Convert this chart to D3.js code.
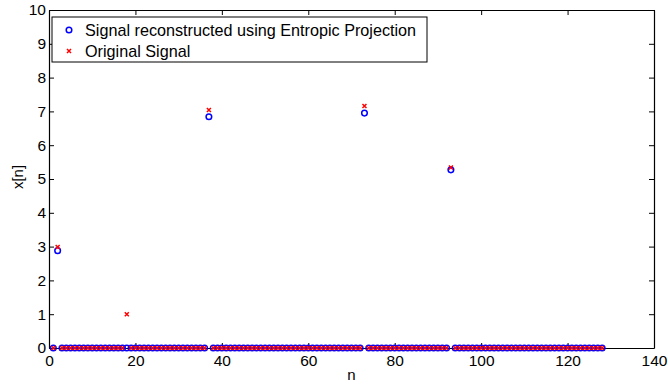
<!DOCTYPE html>
<html>
<head>
<meta charset="utf-8">
<script src="https://cdnjs.cloudflare.com/ajax/libs/d3/7.8.5/d3.min.js"></script>
<style>
  body { margin: 0; background: #fff; }
  svg { font-family: "Liberation Sans", Arial, sans-serif; }
</style>
</head>
<body>
<div id="chart"></div>
<script>
// sample indices
const N = 128;
const indices = d3.range(1, N + 1);

// nonzero samples of the original signal
const origIdx = [2, 18, 37, 73, 93];
const origVal = [2.99, 1.0, 7.04, 7.16, 5.34];

// nonzero samples of the reconstruction
const reconIdx = [2, 37, 73, 93];
const reconVal = [2.88, 6.84, 6.95, 5.27];

const xTicks = [0, 20, 40, 60, 80, 100, 120, 140];
const yTicks = [0, 1, 2, 3, 4, 5, 6, 7, 8, 9, 10];
const legendLabels = ["Signal reconstructed using Entropic Projection", "Original Signal"];

const width = 668, height = 384;
const margin = { top: 10, right: 14, bottom: 36, left: 49 };
const w = width - margin.left - margin.right;
const h = height - margin.top - margin.bottom;

function series(idx, vals) {
  return indices.map(n => {
    const k = idx.indexOf(n);
    return { n: n, v: k >= 0 ? vals[k] : 0 };
  });
}
const recon = series(reconIdx, reconVal);
const orig = series(origIdx, origVal);

const svg = d3.select("#chart").append("svg")
  .attr("width", width)
  .attr("height", height);

const g = svg.append("g")
  .attr("transform", `translate(${margin.left},${margin.top})`);

const x = d3.scaleLinear().domain([0, 140]).range([0, w]);
const y = d3.scaleLinear().domain([0, 10]).range([h, 0]);

// axes, ticks pointing inward, box on
const tickLen = 5;
g.append("g").attr("transform", `translate(0,${h})`)
  .call(d3.axisBottom(x).tickValues(xTicks).tickSizeInner(-tickLen).tickSizeOuter(0).tickPadding(7));
g.append("g")
  .call(d3.axisLeft(y).tickValues(yTicks).tickSizeInner(-tickLen).tickSizeOuter(0).tickPadding(3));
g.append("g")
  .call(d3.axisTop(x).tickValues(xTicks).tickSizeInner(-tickLen).tickSizeOuter(0).tickFormat(""));
g.append("g").attr("transform", `translate(${w},0)`)
  .call(d3.axisRight(y).tickValues(yTicks).tickSizeInner(-tickLen).tickSizeOuter(0).tickFormat(""));

g.selectAll(".domain").attr("stroke", "#000").attr("stroke-width", 1.2);
g.selectAll(".tick line").attr("stroke", "#000");
g.selectAll(".tick text").attr("font-size", 15.5).attr("fill", "#000")
  .attr("font-family", "Liberation Sans, Arial, sans-serif");

// reconstructed signal: blue circles
g.append("g").selectAll("circle")
  .data(recon)
  .join("circle")
  .attr("cx", d => x(d.n))
  .attr("cy", d => y(d.v))
  .attr("r", 2.8)
  .attr("fill", "none")
  .attr("stroke", "#0000ff")
  .attr("stroke-width", 1.5);

// original signal: red crosses
const cs = 2;
const cross = `M${-cs},${-cs}L${cs},${cs}M${-cs},${cs}L${cs},${-cs}`;
g.append("g").selectAll("path")
  .data(orig)
  .join("path")
  .attr("transform", d => `translate(${x(d.n)},${y(d.v)})`)
  .attr("d", cross)
  .attr("fill", "none")
  .attr("stroke", "#ff0000")
  .attr("stroke-width", 1.5);

// axis labels
svg.append("text")
  .attr("x", margin.left + x(70))
  .attr("y", 380)
  .attr("text-anchor", "middle")
  .attr("font-size", 15)
  .text("n");
svg.append("text")
  .attr("transform", `translate(23,${margin.top + h / 2 - 2}) rotate(-90)`)
  .attr("text-anchor", "middle")
  .attr("font-size", 15)
  .text("x[n]");

// legend
const lg = svg.append("g").attr("transform", "translate(52,17)");
lg.append("rect")
  .attr("width", 375)
  .attr("height", 45)
  .attr("fill", "#fff")
  .attr("stroke", "#000")
  .attr("stroke-width", 1);
lg.append("circle")
  .attr("cx", 17).attr("cy", 13).attr("r", 2.8)
  .attr("fill", "none").attr("stroke", "#0000ff").attr("stroke-width", 1.5);
lg.append("path")
  .attr("transform", "translate(17,34)")
  .attr("d", cross)
  .attr("fill", "none").attr("stroke", "#ff0000").attr("stroke-width", 1.5);
lg.selectAll("text.leg")
  .data(legendLabels)
  .join("text")
  .attr("class", "leg")
  .attr("x", 33)
  .attr("y", (d, i) => 19 + i * 21)
  .attr("font-size", 16.2)
  .text(d => d);
</script>
</body>
</html>
